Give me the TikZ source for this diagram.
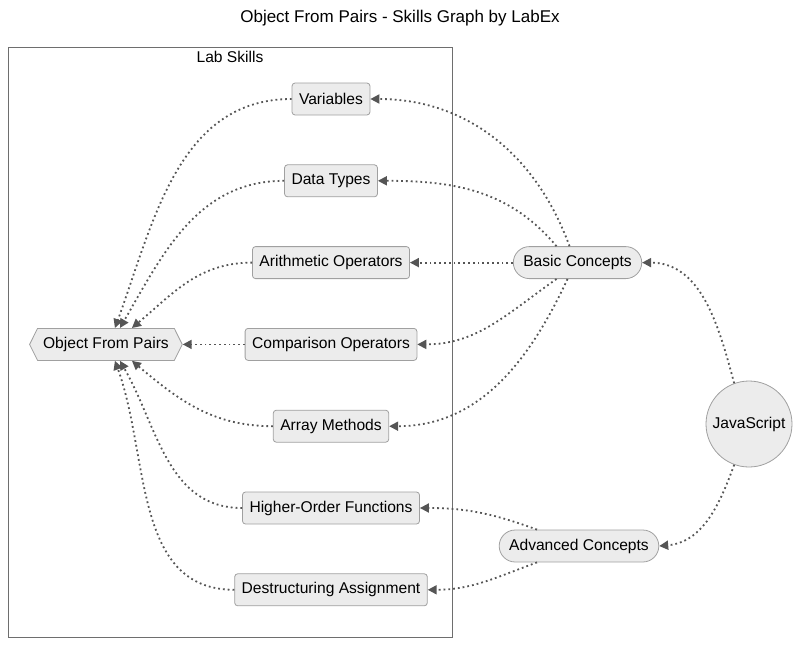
\documentclass[tikz,border=0pt]{standalone}
\usepackage{fontspec}
\setmainfont{Liberation Sans}
\usepackage{tikz}
\usetikzlibrary{shapes.geometric, shapes.symbols, arrows.meta, positioning}
\definecolor{nodefill}{RGB}{236,236,236}
\definecolor{nodeedge}{RGB}{160,160,160}
\definecolor{linkgray}{RGB}{85,85,85}
\definecolor{framegray}{RGB}{110,110,110}
\newcommand\skillfont{\fontsize{15.6}{18}\selectfont}
\tikzset{
    skillblock/.style={rectangle, draw=nodeedge, fill=nodefill, rounded corners=3pt, minimum height=32pt, inner xsep=7pt, font=\skillfont, line width=0.8pt},
    conceptblock/.style={rectangle, draw=nodeedge, fill=nodefill, rounded corners=16pt, minimum height=32pt, inner xsep=10pt, font=\skillfont, line width=0.8pt},
    rootblock/.style={circle, draw=nodeedge, fill=nodefill, minimum size=86pt, inner sep=0pt, font=\skillfont, line width=0.8pt},
    goalblock/.style={signal, signal to=west and east, signal pointer angle=127, draw=nodeedge, fill=nodefill, minimum height=32pt, inner xsep=5.5pt, font=\skillfont, line width=0.8pt},
    skillarrow/.style={-{Triangle[length=9pt, width=9pt]}, draw=linkgray, line width=1.8pt, dash pattern=on 1.8pt off 3pt},
    skillframe/.style={draw=framegray, line width=0.8pt},
    skilltitle/.style={font=\fontsize{17}{20}\selectfont}
}

\begin{document}
\begin{tikzpicture}[x=1pt, y=1pt]
\useasboundingbox (0,0) rectangle (800,-646);

\node[skilltitle] (title) at (400,-18) {Object From Pairs - Skills Graph by LabEx};
\draw[skillframe] (8,-47) rectangle (452,-637);
\node[font=\skillfont] (lab) at (230,-57) {Lab Skills};

% skills column
\node[skillblock] (var) at (331,-99) {Variables};
\node[skillblock, below=49pt of var] (dtype) {Data Types};
\node[skillblock, below=49pt of dtype] (arith) {Arithmetic Operators};
\node[skillblock, below=49pt of arith] (cmp) {Comparison Operators};
\node[skillblock, below=49pt of cmp] (arr) {Array Methods};
\node[skillblock, below=49pt of arr] (hof) {Higher-Order Functions};
\node[skillblock, below=49pt of hof] (destr) {Destructuring Assignment};

\node[goalblock, left=62pt of cmp] (ofp) {Object From Pairs};

% concepts
\node[conceptblock, right=103pt of arith] (basic) {Basic Concepts};
\node[conceptblock] (adv) at (579,-546) {Advanced Concepts};
\node[rootblock] (js) at (749,-424) {JavaScript};

\draw[skillarrow] (js.110) to[out=105, in=0] (basic.east);
\draw[skillarrow] (js.250) to[out=250, in=5] (adv.east);

\draw[skillarrow] ([xshift=-8pt]basic.north) to[out=110, in=0] (var.east);
\draw[skillarrow] ([xshift=-21pt]basic.north) to[out=130, in=0] (dtype.east);
\draw[skillarrow] (basic.west) -- (arith.east);
\draw[skillarrow] ([xshift=-21pt]basic.south) to[out=215, in=0] (cmp.east);
\draw[skillarrow] ([xshift=-10pt]basic.south) to[out=245, in=0] (arr.east);

\draw[skillarrow] ([xshift=-42pt]adv.north) to[out=160, in=0] (hof.east);
\draw[skillarrow] ([xshift=-42pt]adv.south) to[out=200, in=0] (destr.east);

\draw[skillarrow] (var.west) to[out=180, in=70] ([xshift=9pt]ofp.north);
\draw[skillarrow] (dtype.west) to[out=180, in=60] ([xshift=14pt]ofp.north);
\draw[skillarrow] (arith.west) to[out=180, in=40] ([xshift=26pt]ofp.north);
\draw[skillarrow] (cmp.west) -- (ofp.east);
\draw[skillarrow] (arr.west) to[out=180, in=-40] ([xshift=26pt]ofp.south);
\draw[skillarrow] (hof.west) to[out=180, in=-60] ([xshift=14pt]ofp.south);
\draw[skillarrow] (destr.west) to[out=180, in=-70] ([xshift=9pt]ofp.south);

\end{tikzpicture}
\end{document}
